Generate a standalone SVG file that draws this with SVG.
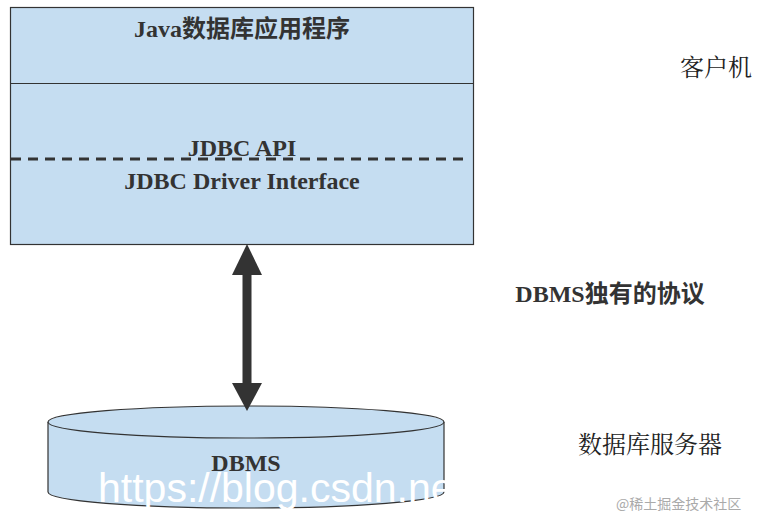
<svg xmlns="http://www.w3.org/2000/svg" width="781" height="518" viewBox="0 0 781 518">
<style>
.s{fill:#c5ddf1;stroke:#333;stroke-width:1.2}
.t{font-family:"Liberation Serif","Noto Sans CJK SC",serif;font-weight:bold;fill:#333;font-size:24px;text-anchor:middle}
.r{font-family:"Liberation Serif","Noto Serif CJK SC","Noto Sans CJK SC",serif;fill:#222;font-size:24px}
</style>
<rect width="781" height="518" fill="#fff"/>
<g id="client">
<rect class="s" x="10.5" y="7.5" width="463" height="237"/>
<line x1="10.5" y1="83.5" x2="473.5" y2="83.5" stroke="#333" stroke-width="1.2"/>
<line x1="11" y1="159" x2="465" y2="159" stroke="#333" stroke-width="3" stroke-dasharray="10,7"/>
<text class="t" x="242" y="37">Java数据库应用程序</text>
<text class="t" x="242" y="156">JDBC API</text>
<text class="t" x="242" y="189">JDBC Driver Interface</text>
</g>
<g id="dbms">
<path class="s" d="M48,422 V492 A198,16 0 0 0 444,492 V422"/>
<ellipse class="s" cx="246" cy="422" rx="198" ry="16"/>
<text class="t" x="246" y="471">DBMS</text>
</g>
<g id="connectors">
<line x1="247" y1="270" x2="247" y2="385" stroke="#333" stroke-width="9"/>
<polygon points="247,244 262,275 232,275" fill="#333"/>
<polygon points="247,411 262,383 232,383" fill="#333"/>
</g>
<g id="labels">
<text class="r" x="680" y="76">客户机</text>
<text class="t" x="610" y="302">DBMS独有的协议</text>
<text class="r" x="578" y="453">数据库服务器</text>
</g>
<text x="98" y="502" font-family="Liberation Sans,sans-serif" font-size="41" fill="#fff">https://blog.csdn.net</text>
<text x="616" y="509" font-family="Noto Sans CJK SC,sans-serif" font-size="14" fill="#aaa">@稀土掘金技术社区</text>
</svg>
